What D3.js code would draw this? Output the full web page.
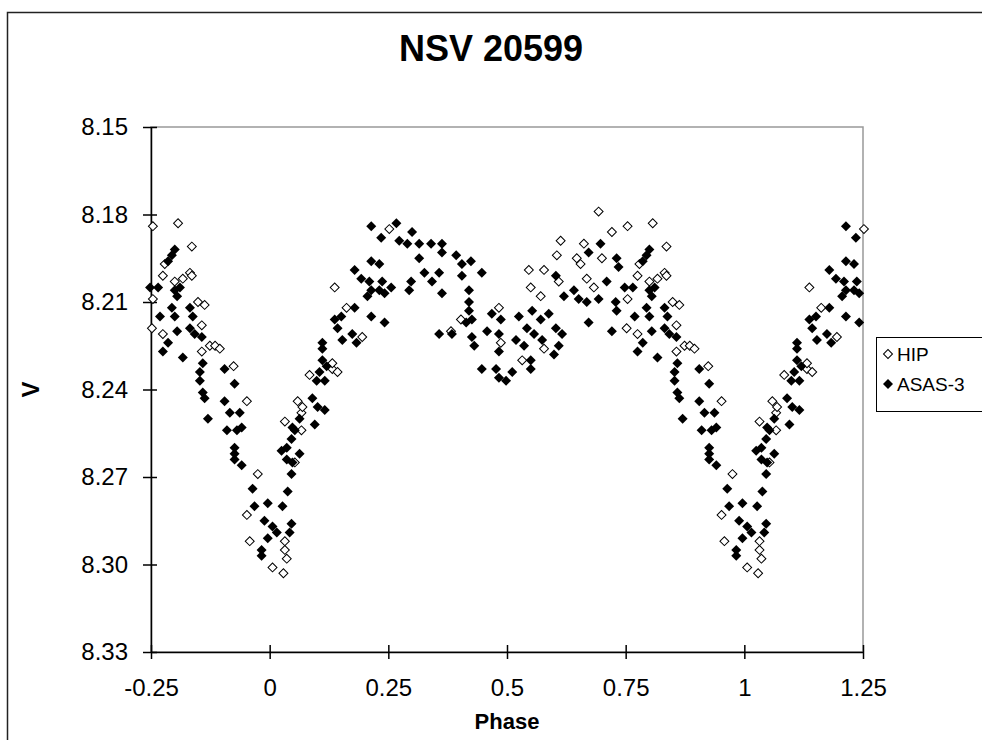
<!DOCTYPE html>
<html>
<head>
<meta charset="utf-8">
<script src="https://cdn.jsdelivr.net/npm/d3@7"></script>
<style>
  body { margin: 0; background: #fff; }
  svg { display: block; }
  text { font-family: "Liberation Sans", Arial, sans-serif; fill: #000; }
</style>
</head>
<body>
<svg id="chart" width="982" height="740"></svg>
<script>
// Chart texts and ticks
const chartTitle = "NSV 20599";
const xLabel = "Phase";
const yLabel = "V";
const seriesNames = ["HIP", "ASAS-3"];
const xTicks = [-0.25, 0, 0.25, 0.5, 0.75, 1, 1.25];
const xTickLabels = ["-0.25", "0", "0.25", "0.5", "0.75", "1", "1.25"];
const yTicks = [8.15, 8.18, 8.21, 8.24, 8.27, 8.30, 8.33];
const yTickLabels = ["8.15", "8.18", "8.21", "8.24", "8.27", "8.30", "8.33"];

// [phase (0..1), V magnitude]
const hipPoints = [
  [0.006,8.301],[0.029,8.303],[0.032,8.295],[0.032,8.292],[0.036,8.298],[0.059,8.244],
  [0.067,8.248],[0.032,8.251],[0.067,8.254],[0.053,8.265],[0.084,8.235],[0.132,8.233],
  [0.137,8.205],[0.162,8.212],[0.195,8.222],[0.143,8.234],[0.132,8.231],[0.069,8.246],
  [0.252,8.185],[0.382,8.220],[0.403,8.216],[0.483,8.212],[0.487,8.224],
  [0.693,8.179],[0.721,8.186],[0.613,8.189],[0.662,8.190],[0.605,8.194],[0.647,8.195],
  [0.700,8.195],[0.655,8.197],[0.546,8.199],[0.578,8.199],[0.668,8.202],[0.550,8.205],
  [0.609,8.203],[0.683,8.205],[0.571,8.208],[0.578,8.226],[0.532,8.230],
  [0.754,8.184],[0.807,8.183],[0.836,8.191],[0.779,8.197],[0.775,8.201],[0.817,8.202],
  [0.832,8.200],[0.836,8.201],[0.800,8.203],[0.754,8.209],[0.849,8.210],[0.863,8.211],
  [0.752,8.219],[0.775,8.221],[0.857,8.218],[0.874,8.225],[0.885,8.225],[0.895,8.226],
  [0.857,8.227],[0.924,8.232],[0.952,8.244],[0.975,8.269],[0.952,8.283],[0.958,8.292]
];

const asasPoints = [
  [0.006,8.287],[0.015,8.289],[0.027,8.280],[0.038,8.275],[0.046,8.269],[0.048,8.265],
  [0.036,8.264],[0.025,8.261],[0.036,8.260],[0.063,8.262],[0.046,8.257],[0.053,8.254],
  [0.063,8.250],[0.048,8.253],[0.046,8.286],[0.042,8.289],[0.090,8.243],[0.101,8.246],
  [0.116,8.247],[0.095,8.252],[0.105,8.234],[0.116,8.237],[0.120,8.232],[0.099,8.237],
  [0.214,8.184],[0.235,8.188],[0.179,8.199],[0.193,8.202],[0.210,8.203],[0.237,8.203],
  [0.214,8.206],[0.231,8.206],[0.242,8.207],[0.206,8.208],[0.214,8.196],[0.231,8.197],
  [0.179,8.212],[0.214,8.215],[0.242,8.217],[0.151,8.215],[0.143,8.219],[0.174,8.221],
  [0.183,8.224],[0.153,8.223],[0.111,8.224],[0.111,8.226],[0.111,8.230],[0.137,8.216],
  [0.267,8.183],[0.273,8.189],[0.300,8.186],[0.290,8.190],[0.315,8.190],[0.340,8.190],
  [0.363,8.190],[0.363,8.193],[0.315,8.195],[0.393,8.194],[0.405,8.197],[0.424,8.196],
  [0.447,8.200],[0.405,8.201],[0.326,8.200],[0.357,8.200],[0.342,8.203],[0.363,8.207],
  [0.298,8.203],[0.294,8.206],[0.256,8.205],[0.420,8.206],[0.420,8.210],[0.420,8.213],
  [0.414,8.217],[0.426,8.216],[0.357,8.221],[0.384,8.221],[0.426,8.222],[0.431,8.225],
  [0.468,8.214],[0.487,8.216],[0.483,8.221],[0.458,8.220],[0.483,8.227],[0.447,8.233],
  [0.477,8.233],[0.483,8.236],[0.498,8.237],
  [0.603,8.201],[0.672,8.193],[0.697,8.190],[0.731,8.195],[0.735,8.198],[0.710,8.203],
  [0.641,8.206],[0.620,8.208],[0.651,8.209],[0.668,8.210],[0.693,8.209],[0.729,8.210],
  [0.731,8.213],[0.672,8.217],[0.721,8.220],[0.553,8.213],[0.571,8.216],[0.588,8.214],
  [0.542,8.219],[0.557,8.221],[0.603,8.219],[0.616,8.221],[0.609,8.225],[0.599,8.228],
  [0.550,8.230],[0.550,8.233],[0.511,8.234],[0.574,8.223],[0.525,8.215],[0.519,8.223],
  [0.536,8.225],
  [0.800,8.192],[0.794,8.194],[0.786,8.196],[0.748,8.205],[0.765,8.205],[0.800,8.206],
  [0.805,8.208],[0.811,8.205],[0.794,8.212],[0.769,8.215],[0.800,8.215],[0.832,8.212],
  [0.838,8.215],[0.832,8.219],[0.842,8.221],[0.805,8.220],[0.786,8.224],[0.775,8.227],
  [0.817,8.229],[0.857,8.222],[0.859,8.231],[0.853,8.234],[0.905,8.233],[0.853,8.237],
  [0.859,8.241],[0.863,8.243],[0.870,8.250],[0.905,8.244],[0.926,8.238],[0.916,8.248],
  [0.937,8.248],[0.910,8.254],[0.931,8.254],[0.941,8.253],[0.926,8.260],[0.926,8.262],
  [0.926,8.264],[0.941,8.266],[0.964,8.274],[0.968,8.280],[0.996,8.279],[0.989,8.285],
  [0.996,8.291],[0.983,8.295],[0.983,8.297]
];

// Repeat the folded cycle on both sides, as the phase diagram shows -0.25 .. 1.25
function fold(points){
    var out = [];
    points.forEach(function(d){
        out.push(d);
        if(d[0] - 1 >= -0.255) out.push([d[0] - 1, d[1]]);
        if(d[0] + 1 <= 1.255) out.push([d[0] + 1, d[1]]);
    });
    return out;
}

var svg = d3.select('#chart');
var plot = {left: 151, right: 863, top: 127, bottom: 652};
var font = '"Liberation Sans", Arial, sans-serif';

// Outer chart frame (runs off the right and bottom edges)
svg.append('rect')
    .attr('x', 7.5).attr('y', 12.5)
    .attr('width', 1000).attr('height', 800)
    .attr('fill', '#fff')
    .attr('stroke', '#222')
    .attr('stroke-width', 1.5);

var x = d3.scaleLinear().domain([-0.25, 1.25]).range([plot.left, plot.right]);
var y = d3.scaleLinear().domain([8.15, 8.33]).range([plot.top, plot.bottom]);

// Plot area border
svg.append('rect')
    .attr('x', plot.left).attr('y', plot.top)
    .attr('width', plot.right - plot.left).attr('height', plot.bottom - plot.top)
    .attr('fill', 'none')
    .attr('stroke', '#999')
    .attr('stroke-width', 1.5);

// Y axis
var yAxis = svg.append('g')
    .attr('transform', 'translate(' + plot.left + ',0)')
    .call(d3.axisLeft(y).tickValues(yTicks)
        .tickFormat(function(d, i){ return yTickLabels[i]; })
        .tickSizeInner(8).tickSizeOuter(0).tickPadding(15));
yAxis.select('.domain').attr('stroke', '#000').attr('stroke-width', 1.5);
yAxis.selectAll('.tick line').attr('x1', 6).attr('stroke', '#000').attr('stroke-width', 1.5);
yAxis.selectAll('.tick text').attr('font-size', 24).attr('font-family', font);

// X axis
var xAxis = svg.append('g')
    .attr('transform', 'translate(0,' + plot.bottom + ')')
    .call(d3.axisBottom(x).tickValues(xTicks)
        .tickFormat(function(d, i){ return xTickLabels[i]; })
        .tickSizeInner(7).tickSizeOuter(0).tickPadding(20));
xAxis.select('.domain').attr('stroke', '#000').attr('stroke-width', 1.5);
xAxis.selectAll('.tick line').attr('y1', -7).attr('stroke', '#000').attr('stroke-width', 1.5);
xAxis.selectAll('.tick text').attr('font-size', 24).attr('font-family', font);

// Markers: diamonds (squares turned 45 degrees)
var openDiamond = d3.symbol().type(d3.symbolSquare).size(40);
var solidDiamond = d3.symbol().type(d3.symbolSquare).size(50);

svg.append('g')
    .selectAll('path')
    .data(fold(hipPoints))
    .enter().append('path')
    .attr('d', openDiamond)
    .attr('transform', function(d){ return 'translate(' + x(d[0]) + ',' + y(d[1]) + ') rotate(45)'; })
    .attr('fill', '#fff')
    .attr('stroke', '#000')
    .attr('stroke-width', 1);

svg.append('g')
    .selectAll('path')
    .data(fold(asasPoints))
    .enter().append('path')
    .attr('d', solidDiamond)
    .attr('transform', function(d){ return 'translate(' + x(d[0]) + ',' + y(d[1]) + ') rotate(45)'; })
    .attr('fill', '#000');

// Title and axis titles
svg.append('text')
    .attr('x', 491).attr('y', 61)
    .attr('text-anchor', 'middle')
    .attr('font-size', 36).attr('font-weight', 'bold')
    .text(chartTitle);

svg.append('text')
    .attr('x', (plot.left + plot.right) / 2).attr('y', 729)
    .attr('text-anchor', 'middle')
    .attr('font-size', 22).attr('font-weight', 'bold')
    .text(xLabel);

svg.append('text')
    .attr('transform', 'translate(39,' + ((plot.top + plot.bottom) / 2) + ') rotate(-90)')
    .attr('text-anchor', 'middle')
    .attr('font-size', 24).attr('font-weight', 'bold')
    .text(yLabel);

// Legend
var legend = svg.append('g').attr('transform', 'translate(876,337)');
legend.append('rect')
    .attr('x', 0.5).attr('y', 0.5)
    .attr('width', 130).attr('height', 74)
    .attr('fill', '#fff')
    .attr('stroke', '#000')
    .attr('stroke-width', 1);
legend.append('path')
    .attr('d', openDiamond)
    .attr('transform', 'translate(12,17) rotate(45)')
    .attr('fill', '#fff').attr('stroke', '#000');
legend.append('path')
    .attr('d', solidDiamond)
    .attr('transform', 'translate(12,47) rotate(45)')
    .attr('fill', '#000');
legend.selectAll('text.item')
    .data(seriesNames)
    .enter().append('text')
    .attr('class', 'item')
    .attr('x', 21)
    .attr('y', function(d, i){ return 24 + i * 30; })
    .attr('font-size', 19)
    .text(function(d){ return d; });
</script>
</body>
</html>
